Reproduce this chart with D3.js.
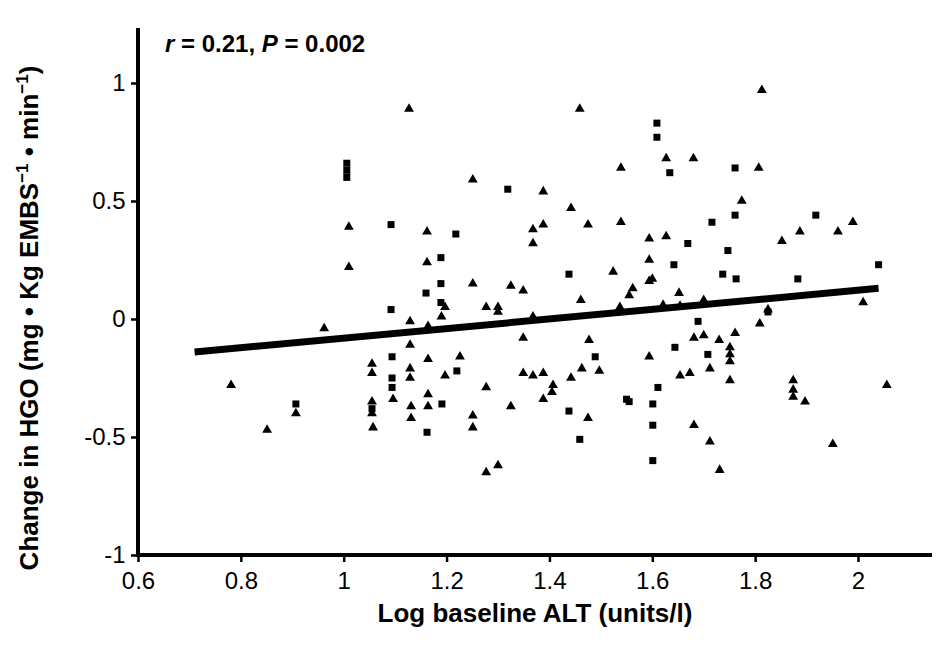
<!DOCTYPE html>
<html><head><meta charset="utf-8">
<script src="https://cdn.jsdelivr.net/npm/d3@7"></script>
<style>body{margin:0;background:#fff}text{font-family:"Liberation Sans",Arial,sans-serif}</style>
</head><body><svg id="chart" width="940" height="652"></svg>
<script>
// points: [log ALT, change in HGO, shape]
const triangles = [
  [0.781,-0.28],[0.851,-0.47],[0.907,-0.40],[0.962,-0.04],[1.01,0.39],[1.01,0.22],
  [1.055,-0.19],[1.055,-0.23],[1.055,-0.35],[1.055,-0.40],[1.057,-0.46],[1.096,-0.34],
  [1.127,0.89],[1.129,-0.01],[1.129,-0.11],[1.129,-0.21],[1.129,-0.25],[1.131,-0.37],[1.131,-0.42],
  [1.162,0.37],[1.162,0.24],[1.164,-0.03],[1.164,-0.17],[1.164,-0.32],[1.164,-0.37],
  [1.19,0.01],[1.197,0.05],[1.197,-0.24],[1.226,-0.16],[1.251,0.59],[1.251,0.15],
  [1.251,-0.41],[1.251,-0.46],[1.277,0.05],[1.277,-0.29],[1.277,-0.65],[1.30,0.05],[1.30,0.03],[1.30,-0.62],
  [1.325,0.14],[1.325,-0.37],[1.349,0.12],[1.349,-0.08],[1.349,-0.23],[1.368,0.38],[1.368,0.32],
  [1.368,0.01],[1.368,-0.24],[1.388,0.54],[1.388,0.40],[1.388,-0.23],[1.388,-0.34],[1.405,-0.31],[1.407,-0.28],
  [1.442,0.47],[1.442,-0.25],[1.459,0.89],[1.461,0.08],[1.463,-0.21],[1.475,0.40],[1.475,-0.42],
  [1.477,-0.09],[1.497,-0.22],[1.524,0.20],[1.537,0.05],[1.539,0.64],[1.539,0.41],[1.555,0.10],
  [1.562,0.13],[1.594,0.34],[1.594,0.25],[1.594,0.16],[1.594,-0.16],[1.60,0.17],[1.621,0.06],
  [1.627,0.68],[1.627,0.35],[1.652,0.11],[1.654,0.055],[1.654,-0.24],[1.673,-0.23],[1.68,0.68],
  [1.681,-0.08],[1.681,-0.45],[1.70,0.08],[1.70,-0.07],[1.712,-0.21],[1.712,-0.52],[1.73,-0.09],
  [1.731,-0.64],[1.751,-0.12],[1.751,-0.15],[1.751,-0.18],[1.751,-0.26],[1.761,-0.06],[1.774,0.50],
  [1.807,0.64],[1.813,0.97],[1.809,-0.02],[1.825,0.04],[1.852,0.33],[1.874,-0.26],[1.874,-0.30],
  [1.874,-0.33],[1.887,0.37],[1.897,-0.35],[1.951,-0.53],[1.961,0.37],[1.99,0.41],[2.01,0.07],[2.056,-0.28]
];
const squares = [
  [0.907,-0.36],[1.006,0.66],[1.006,0.63],[1.006,0.60],[1.055,-0.38],[1.092,0.40],[1.092,0.04],
  [1.094,-0.16],[1.094,-0.25],[1.094,-0.29],[1.16,0.11],[1.162,-0.48],[1.189,0.26],[1.189,0.15],
  [1.189,0.07],[1.191,-0.36],[1.218,0.36],[1.22,-0.22],[1.319,0.55],[1.438,0.19],[1.438,-0.39],
  [1.459,-0.51],[1.489,-0.16],[1.55,-0.34],[1.555,-0.35],[1.601,-0.36],[1.601,-0.45],[1.601,-0.60],
  [1.609,0.83],[1.609,0.77],[1.611,-0.29],[1.634,0.62],[1.642,0.23],[1.644,-0.12],[1.669,0.32],
  [1.689,-0.01],[1.708,-0.15],[1.716,0.41],[1.737,0.19],[1.747,0.29],[1.761,0.64],[1.761,0.44],
  [1.763,0.17],[1.825,0.03],[1.883,0.17],[1.918,0.44],[2.04,0.23]
];
const fitLine = [[0.71,-0.14],[2.04,0.13]];
const xTicks = [0.6,0.8,1,1.2,1.4,1.6,1.8,2];
const yTicks = [-1,-0.5,0,0.5,1];

const svg = d3.select("#chart");
const x = d3.scaleLinear().domain([0.6,2]).range([138,858]);
const y = d3.scaleLinear().domain([-1,1]).range([555,83]);
const fmt = d => String(d).replace("−","-");

// axes
const xAxis = svg.append("g").attr("transform","translate(0,555)")
  .call(d3.axisBottom(x).tickValues(xTicks).tickFormat(fmt).tickSize(7).tickSizeOuter(0));
xAxis.select(".domain").attr("d","M138,0H932");
const yAxis = svg.append("g").attr("transform","translate(138,0)")
  .call(d3.axisLeft(y).tickValues(yTicks).tickFormat(fmt).tickSize(7).tickSizeOuter(0));
yAxis.select(".domain").attr("d","M0,557V28");
svg.selectAll(".domain").attr("stroke","#000").attr("stroke-width",4);
svg.selectAll(".tick line").attr("stroke-width",2.5);
svg.selectAll(".tick text").attr("font-size",24).attr("fill","#000");
xAxis.selectAll(".tick text").attr("dy","1.0em");
yAxis.selectAll(".tick text").attr("dx","-0.1em");

// regression line
svg.append("path").datum(fitLine)
  .attr("d", d3.line().x(d=>x(d[0])).y(d=>y(d[1])))
  .attr("stroke","#000").attr("stroke-width",7).attr("fill","none");

// markers
svg.selectAll(".tri").data(triangles).enter().append("path").attr("class","tri")
  .attr("d", d3.symbol().type(d3.symbolTriangle).size(42))
  .attr("transform", d=>`translate(${x(d[0])},${y(d[1])})`).attr("fill","#000");
svg.selectAll(".sq").data(squares).enter().append("rect").attr("class","sq")
  .attr("x", d=>x(d[0])-3.5).attr("y", d=>y(d[1])-3.5).attr("width",7).attr("height",7).attr("fill","#000");

// annotation
const ann = svg.append("text").attr("x",165).attr("y",52).attr("font-size",24).attr("font-weight","bold");
ann.append("tspan").attr("font-style","italic").text("r");
ann.append("tspan").text(" = 0.21, ");
ann.append("tspan").attr("font-style","italic").text("P");
ann.append("tspan").text(" = 0.002");

// axis titles
svg.append("text").attr("x",535).attr("y",622).attr("text-anchor","middle")
  .attr("font-size",26).attr("font-weight","bold").text("Log baseline ALT (units/l)");
const yl = svg.append("text").attr("transform","translate(38,318) rotate(-90)").attr("text-anchor","middle")
  .attr("font-size",26).attr("font-weight","bold");
yl.append("tspan").text("Change in HGO (mg • Kg EMBS");
yl.append("tspan").attr("font-size",17).attr("dy",-10).text("−1");
yl.append("tspan").attr("dy",10).text(" • min");
yl.append("tspan").attr("font-size",17).attr("dy",-10).text("−1");
yl.append("tspan").attr("dy",10).text(")");
</script></body></html>
